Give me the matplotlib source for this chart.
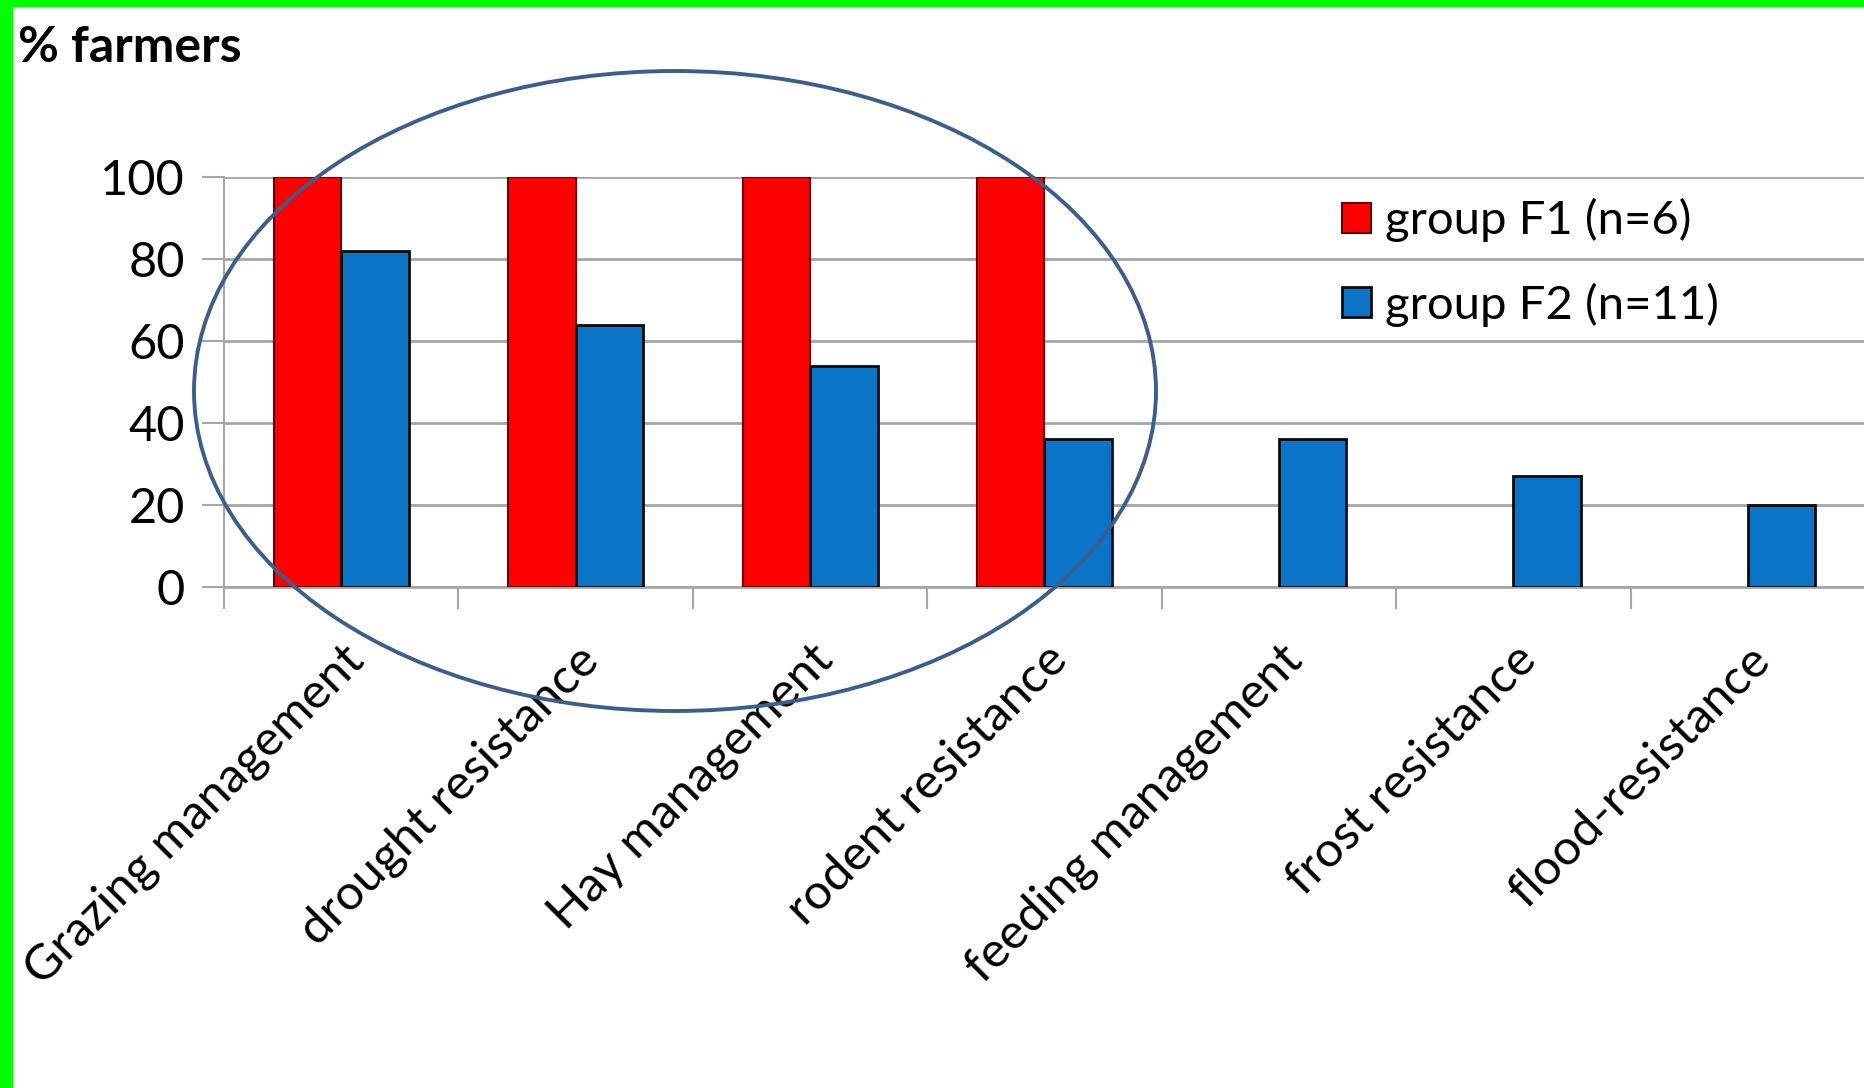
import matplotlib.pyplot as plt
from matplotlib.patches import Ellipse, Rectangle
import numpy as np

categories = ['Grazing management', 'drought resistance', 'Hay management',
              'rodent resistance', 'feeding management', 'frost resistance',
              'flood-resistance']
f1_values = [100, 100, 100, 100, 0, 0, 0]
f2_values = [82, 64, 54, 36, 36, 27, 20]
series_labels = ['group F1 (n=6)', 'group F2 (n=11)']
yticks = [0, 20, 40, 60, 80, 100]

plt.rcParams['font.family'] = ['Lato', 'DejaVu Sans']

fig = plt.figure(figsize=(18.65, 10.88), dpi=100)
ax = fig.add_axes([0.1201, 0.4605, 0.8799, 0.3768])

x = np.arange(len(categories))
w = 0.288
b1 = ax.bar(x - w / 2, f1_values, w, color='#FF0000', edgecolor='#6a0000',
            linewidth=1.5, label=series_labels[0], zorder=3)
b2 = ax.bar(x + w / 2, f2_values, w, color='#0A74C8', edgecolor='#0a0a0a',
            linewidth=2, label=series_labels[1], zorder=3)
# hide zero-height bars
for r in b1:
    if r.get_height() == 0:
        r.set_visible(False)

ax.set_xlim(-0.5, len(categories) - 0.5)
ax.set_ylim(0, 100)
ax.set_yticks(yticks)
ax.set_yticklabels([str(t) for t in yticks], fontsize=35)
ax.yaxis.grid(True, color='#a6a6a6', linewidth=2, zorder=0)
ax.tick_params(axis='y', length=16, width=1.5, color='#a6a6a6', pad=12)

ax.set_xticks(x)
ax.set_xticklabels(categories, rotation=45, ha='right', rotation_mode='anchor',
                   fontsize=35.5)
ax.tick_params(axis='x', length=0, pad=36)
ax.set_xticks(np.arange(-0.5, len(categories) - 0.5, 1), minor=True)
ax.tick_params(axis='x', which='minor', length=16, width=1.5, color='#a6a6a6')

for s in ['top', 'right']:
    ax.spines[s].set_visible(False)
ax.spines['left'].set_color('#a6a6a6')
ax.spines['left'].set_linewidth(1.5)
ax.spines['bottom'].set_color('#a6a6a6')
ax.spines['bottom'].set_linewidth(2)

leg = fig.legend(handles=[b1, b2], labels=series_labels, loc='upper left',
                 bbox_to_anchor=(0.697, 0.857), frameon=False, fontsize=34,
                 handlelength=0.6, handleheight=0.6, handletextpad=0.3,
                 labelspacing=0.85)

fig.text(0.0097, 0.956, '% farmers', fontsize=36, fontweight='bold', va='center')

# ellipse highlighting F1 group
fig.add_artist(Ellipse((675 / 1865, 1 - 391 / 1088), 962 / 1865, 640 / 1088,
                       transform=fig.transFigure, fill=False,
                       edgecolor='#3b5e8c', linewidth=2.8, zorder=10))

# green frame on top and left
fig.add_artist(Rectangle((0, 1 - 6 / 1088), 1, 6 / 1088, transform=fig.transFigure,
                         color='#00ff00', zorder=20))
fig.add_artist(Rectangle((0, 0), 12 / 1865, 1, transform=fig.transFigure,
                         color='#00ff00', zorder=20))

fig.savefig('out.png', dpi=100)
